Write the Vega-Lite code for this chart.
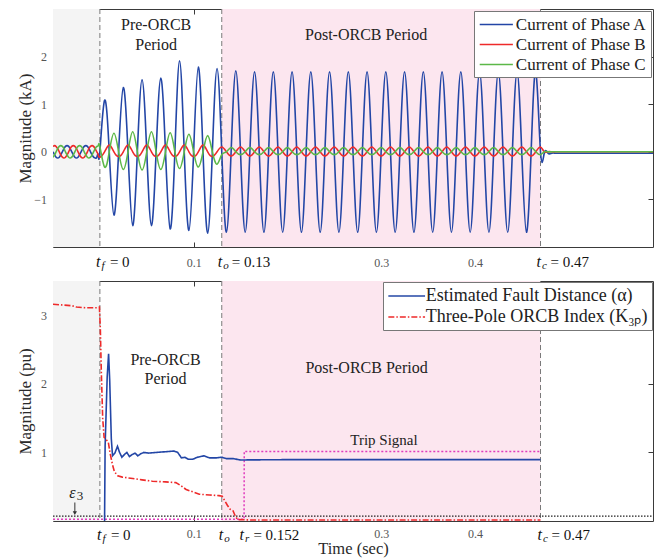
{
"$schema":"https://vega.github.io/schema/vega-lite/v6.json",
"padding":{"left":15,"top":8,"right":0,"bottom":0},
"background":"white",
"config":{
 "view":{"stroke":"#3a3a3a","strokeWidth":1},
 "font":"Liberation Serif",
 "axis":{"grid":false,"domain":false,"ticks":true,"tickColor":"#3a3a3a","tickSize":-5,"tickWidth":1,"labelFont":"Liberation Serif","labelFontSize":12,"labelColor":"#555","labelOverlap":false,"labelFlush":false,"titleFont":"Liberation Serif","titleFontSize":17,"titleFontWeight":"normal","titleColor":"#2a2a2a"},
 "legend":{"orient":"top-right","symbolType":"M-2,0H2","symbolStrokeWidth":1.6,"labelFont":"Liberation Serif","labelFontSize":17,"labelColor":"#222","labelLimit":400,"strokeColor":"#777","fillColor":"#ffffff","padding":4,"rowPadding":2},
 "text":{"font":"Liberation Serif"}
},
"datasets":{
"cur":[
{"t":-0.05,"A":0,"B":0.113,"C":-0.113},
{"t":-0.0483,"A":-0.065,"B":0.13,"C":-0.065},
{"t":-0.0467,"A":-0.113,"B":0.113,"C":0},
{"t":-0.045,"A":-0.13,"B":0.065,"C":0.065},
{"t":-0.0433,"A":-0.113,"B":0,"C":0.113},
{"t":-0.0417,"A":-0.065,"B":-0.065,"C":0.13},
{"t":-0.04,"A":0,"B":-0.113,"C":0.113},
{"t":-0.0383,"A":0.065,"B":-0.13,"C":0.065},
{"t":-0.0367,"A":0.113,"B":-0.113,"C":0},
{"t":-0.035,"A":0.13,"B":-0.065,"C":-0.065},
{"t":-0.0333,"A":0.113,"B":0,"C":-0.113},
{"t":-0.0317,"A":0.065,"B":0.065,"C":-0.13},
{"t":-0.03,"A":0,"B":0.113,"C":-0.113},
{"t":-0.0283,"A":-0.065,"B":0.13,"C":-0.065},
{"t":-0.0267,"A":-0.113,"B":0.113,"C":0},
{"t":-0.025,"A":-0.13,"B":0.065,"C":0.065},
{"t":-0.0233,"A":-0.113,"B":0,"C":0.113},
{"t":-0.0217,"A":-0.065,"B":-0.065,"C":0.13},
{"t":-0.02,"A":0,"B":-0.113,"C":0.113},
{"t":-0.0183,"A":0.065,"B":-0.13,"C":0.065},
{"t":-0.0167,"A":0.113,"B":-0.113,"C":0},
{"t":-0.015,"A":0.13,"B":-0.065,"C":-0.065},
{"t":-0.0133,"A":0.113,"B":0,"C":-0.113},
{"t":-0.0117,"A":0.065,"B":0.065,"C":-0.13},
{"t":-0.01,"A":0,"B":0.113,"C":-0.113},
{"t":-0.0083,"A":-0.065,"B":0.13,"C":-0.065},
{"t":-0.0067,"A":-0.113,"B":0.113,"C":0},
{"t":-0.005,"A":-0.13,"B":0.065,"C":0.065},
{"t":-0.0033,"A":-0.113,"B":0,"C":0.113},
{"t":-0.0017,"A":-0.065,"B":-0.065,"C":0.13},
{"t":0,"A":0,"B":-0.113,"C":0.113},
{"t":0.005,"A":1.08,"B":0,"C":-0.32},
{"t":0.01,"A":0,"B":0.14,"C":0},
{"t":0.015,"A":-1.33,"B":0,"C":0.39},
{"t":0.02,"A":0,"B":-0.1,"C":0},
{"t":0.025,"A":1.35,"B":0,"C":-0.37},
{"t":0.03,"A":0,"B":0.14,"C":0},
{"t":0.035,"A":-1.55,"B":0,"C":0.42},
{"t":0.04,"A":0,"B":-0.1,"C":0},
{"t":0.045,"A":1.51,"B":0,"C":-0.38},
{"t":0.05,"A":0,"B":0.14,"C":0},
{"t":0.055,"A":-1.55,"B":0,"C":0.42},
{"t":0.06,"A":0,"B":-0.1,"C":0},
{"t":0.065,"A":1.55,"B":0,"C":-0.37},
{"t":0.07,"A":0,"B":0.14,"C":0},
{"t":0.075,"A":-1.62,"B":0,"C":0.4},
{"t":0.08,"A":0,"B":-0.1,"C":0},
{"t":0.085,"A":1.91,"B":0,"C":-0.35},
{"t":0.09,"A":0,"B":0.14,"C":0},
{"t":0.095,"A":-1.65,"B":0,"C":0.37},
{"t":0.1,"A":0,"B":-0.1,"C":0},
{"t":0.105,"A":1.78,"B":0,"C":-0.32},
{"t":0.11,"A":0,"B":0.14,"C":0},
{"t":0.115,"A":-1.71,"B":0,"C":0.34},
{"t":0.12,"A":0,"B":-0.1,"C":0},
{"t":0.125,"A":1.75,"B":0,"C":-0.26},
{"t":0.13,"A":0,"B":0.1,"C":-0.06},
{"t":0.135,"A":-1.69,"B":0,"C":0},
{"t":0.14,"A":0,"B":-0.09,"C":0.09},
{"t":0.145,"A":1.7,"B":0,"C":0},
{"t":0.15,"A":0,"B":0.1,"C":-0.06},
{"t":0.155,"A":-1.69,"B":0,"C":0},
{"t":0.16,"A":0,"B":-0.09,"C":0.09},
{"t":0.165,"A":1.68,"B":0,"C":0},
{"t":0.17,"A":0,"B":0.1,"C":-0.06},
{"t":0.175,"A":-1.69,"B":0,"C":0},
{"t":0.18,"A":0,"B":-0.09,"C":0.09},
{"t":0.185,"A":1.68,"B":0,"C":0},
{"t":0.19,"A":0,"B":0.1,"C":-0.06},
{"t":0.195,"A":-1.69,"B":0,"C":0},
{"t":0.2,"A":0,"B":-0.09,"C":0.09},
{"t":0.205,"A":1.68,"B":0,"C":0},
{"t":0.21,"A":0,"B":0.1,"C":-0.06},
{"t":0.215,"A":-1.69,"B":0,"C":0},
{"t":0.22,"A":0,"B":-0.09,"C":0.09},
{"t":0.225,"A":1.68,"B":0,"C":0},
{"t":0.23,"A":0,"B":0.1,"C":-0.06},
{"t":0.235,"A":-1.69,"B":0,"C":0},
{"t":0.24,"A":0,"B":-0.09,"C":0.09},
{"t":0.245,"A":1.68,"B":0,"C":0},
{"t":0.25,"A":0,"B":0.1,"C":-0.06},
{"t":0.255,"A":-1.69,"B":0,"C":0},
{"t":0.26,"A":0,"B":-0.09,"C":0.09},
{"t":0.265,"A":1.68,"B":0,"C":0},
{"t":0.27,"A":0,"B":0.1,"C":-0.06},
{"t":0.275,"A":-1.69,"B":0,"C":0},
{"t":0.28,"A":0,"B":-0.09,"C":0.09},
{"t":0.285,"A":1.68,"B":0,"C":0},
{"t":0.29,"A":0,"B":0.1,"C":-0.06},
{"t":0.295,"A":-1.69,"B":0,"C":0},
{"t":0.3,"A":0,"B":-0.09,"C":0.09},
{"t":0.305,"A":1.68,"B":0,"C":0},
{"t":0.31,"A":0,"B":0.1,"C":-0.06},
{"t":0.315,"A":-1.69,"B":0,"C":0},
{"t":0.32,"A":0,"B":-0.09,"C":0.09},
{"t":0.325,"A":1.68,"B":0,"C":0},
{"t":0.33,"A":0,"B":0.1,"C":-0.06},
{"t":0.335,"A":-1.69,"B":0,"C":0},
{"t":0.34,"A":0,"B":-0.09,"C":0.09},
{"t":0.345,"A":1.68,"B":0,"C":0},
{"t":0.35,"A":0,"B":0.1,"C":-0.06},
{"t":0.355,"A":-1.69,"B":0,"C":0},
{"t":0.36,"A":0,"B":-0.09,"C":0.09},
{"t":0.365,"A":1.68,"B":0,"C":0},
{"t":0.37,"A":0,"B":0.1,"C":-0.06},
{"t":0.375,"A":-1.69,"B":0,"C":0},
{"t":0.38,"A":0,"B":-0.09,"C":0.09},
{"t":0.385,"A":1.68,"B":0,"C":0},
{"t":0.39,"A":0,"B":0.1,"C":-0.06},
{"t":0.395,"A":-1.69,"B":0,"C":0},
{"t":0.4,"A":0,"B":-0.09,"C":0.09},
{"t":0.405,"A":1.68,"B":0,"C":0},
{"t":0.41,"A":0,"B":0.1,"C":-0.06},
{"t":0.415,"A":-1.69,"B":0,"C":0},
{"t":0.42,"A":0,"B":-0.09,"C":0.09},
{"t":0.425,"A":1.68,"B":0,"C":0},
{"t":0.43,"A":0,"B":0.1,"C":-0.06},
{"t":0.435,"A":-1.69,"B":0,"C":0},
{"t":0.44,"A":0,"B":-0.09,"C":0.09},
{"t":0.445,"A":1.68,"B":0,"C":0},
{"t":0.45,"A":0,"B":0.1,"C":-0.06},
{"t":0.455,"A":-1.69,"B":0,"C":0},
{"t":0.46,"A":0,"B":-0.09,"C":0.09},
{"t":0.465,"A":1.68,"B":0,"C":0},
{"t":0.47,"A":0,"B":0.1,"C":-0.06},
{"t":0.474,"A":-0.03,"B":0,"C":0},
{"t":0.478,"A":-0.03,"B":0,"C":0},
{"t":0.482,"A":-0.03,"B":0,"C":0},
{"t":0.486,"A":-0.03,"B":0,"C":0},
{"t":0.49,"A":-0.03,"B":0,"C":0},
{"t":0.495,"A":-0.03,"B":0,"C":0},
{"t":0.5,"A":-0.03,"B":0,"C":0},
{"t":0.51,"A":-0.03,"B":0,"C":0},
{"t":0.52,"A":-0.03,"B":0,"C":0},
{"t":0.535,"A":-0.03,"B":0,"C":0},
{"t":0.55,"A":-0.03,"B":0,"C":0},
{"t":0.57,"A":-0.03,"B":0,"C":0},
{"t":0.59,"A":-0.03,"B":0,"C":0}
],
"est":[
{"t":0.005,"s":"a","v":0},{"t":0.0056,"s":"a","v":1.1},{"t":0.0078,"s":"a","v":2.1},{"t":0.0093,"s":"a","v":2.44},{"t":0.0105,"s":"a","v":2.05},{"t":0.0122,"s":"a","v":1.2},{"t":0.0135,"s":"a","v":0.95},{"t":0.016,"s":"a","v":0.99},{"t":0.0188,"s":"a","v":1.09},{"t":0.021,"s":"a","v":1.0},{"t":0.0235,"s":"a","v":0.93},{"t":0.0262,"s":"a","v":0.97},{"t":0.0288,"s":"a","v":1.0},{"t":0.0315,"s":"a","v":0.94},{"t":0.0345,"s":"a","v":0.97},{"t":0.0375,"s":"a","v":0.99},{"t":0.0405,"s":"a","v":0.95},{"t":0.0435,"s":"a","v":0.98},{"t":0.047,"s":"a","v":1.0},{"t":0.052,"s":"a","v":0.99},{"t":0.06,"s":"a","v":1.0},{"t":0.07,"s":"a","v":1.01},{"t":0.079,"s":"a","v":1.02},{"t":0.083,"s":"a","v":1.0},{"t":0.087,"s":"a","v":0.92},{"t":0.0905,"s":"a","v":0.93},{"t":0.0945,"s":"a","v":0.9},{"t":0.099,"s":"a","v":0.9},{"t":0.104,"s":"a","v":0.93},{"t":0.111,"s":"a","v":0.95},{"t":0.117,"s":"a","v":0.92},{"t":0.124,"s":"a","v":0.92},{"t":0.13,"s":"a","v":0.93},{"t":0.135,"s":"a","v":0.91},{"t":0.142,"s":"a","v":0.91},{"t":0.15,"s":"a","v":0.89},{"t":0.2,"s":"a","v":0.895},{"t":0.3,"s":"a","v":0.895},{"t":0.4,"s":"a","v":0.895},{"t":0.47,"s":"a","v":0.895},
{"t":-0.05,"s":"k","v":3.16},{"t":-0.04,"s":"k","v":3.15},{"t":-0.03,"s":"k","v":3.14},{"t":-0.025,"s":"k","v":3.12},{"t":-0.015,"s":"k","v":3.11},{"t":-0.003,"s":"k","v":3.11},{"t":-0.0005,"s":"k","v":3.12},{"t":0.0005,"s":"k","v":2.8},{"t":0.0015,"s":"k","v":2.2},{"t":0.003,"s":"k","v":1.5},{"t":0.0045,"s":"k","v":1.22},{"t":0.0065,"s":"k","v":1.19},{"t":0.009,"s":"k","v":1.15},{"t":0.011,"s":"k","v":0.98},{"t":0.0135,"s":"k","v":0.82},{"t":0.0155,"s":"k","v":0.72},{"t":0.019,"s":"k","v":0.66},{"t":0.024,"s":"k","v":0.64},{"t":0.035,"s":"k","v":0.62},{"t":0.045,"s":"k","v":0.6},{"t":0.056,"s":"k","v":0.58},{"t":0.07,"s":"k","v":0.57},{"t":0.081,"s":"k","v":0.56},{"t":0.086,"s":"k","v":0.52},{"t":0.092,"s":"k","v":0.46},{"t":0.1,"s":"k","v":0.42},{"t":0.106,"s":"k","v":0.39},{"t":0.117,"s":"k","v":0.38},{"t":0.127,"s":"k","v":0.37},{"t":0.1305,"s":"k","v":0.36},{"t":0.133,"s":"k","v":0.3},{"t":0.136,"s":"k","v":0.23},{"t":0.139,"s":"k","v":0.17},{"t":0.142,"s":"k","v":0.15},{"t":0.1445,"s":"k","v":0.07},{"t":0.147,"s":"k","v":0.02},{"t":0.16,"s":"k","v":0.015},{"t":0.47,"s":"k","v":0.015}
],
"spTop":[{"t":0,"sub":"f","rest":"= 0"},{"t":0.13,"sub":"o","rest":"= 0.13"},{"t":0.47,"sub":"c","rest":"= 0.47"}],
"spBot":[{"t":0,"sub":"f","rest":"= 0"},{"t":0.13,"sub":"o","rest":""},{"t":0.152,"sub":"r","rest":"= 0.152"},{"t":0.47,"sub":"c","rest":"= 0.47"}]
},
"vconcat":[
{
 "width":600,"height":238,
 "encoding":{"x":{"field":"t","type":"quantitative","scale":{"domain":[-0.05,0.59],"nice":false},"axis":null}},
 "layer":[
  {"data":{"values":[{"t":-0.05,"t2":0}]},"mark":{"type":"rect","fill":"#f4f4f4"},"encoding":{"x2":{"field":"t2"}}},
  {"data":{"values":[{"t":0.13,"t2":0.47}]},"mark":{"type":"rect","fill":"#fce6ef"},"encoding":{"x2":{"field":"t2"}}},
  {"data":{"values":[{"t":0},{"t":0.13},{"t":0.47}]},"mark":{"type":"rule","stroke":"#7a7a7a","strokeDash":[5,3],"strokeWidth":1},"encoding":{}},
  {"data":{"name":"cur"},"transform":[{"fold":["A","B","C"],"as":["phase","kA"]}],
   "mark":{"type":"line","interpolate":"natural","strokeWidth":1.6,"clip":true},
   "encoding":{
    "x":{"field":"t","type":"quantitative","scale":{"domain":[-0.05,0.59],"nice":false},"axis":{"orient":"bottom","values":[0.1,0.2,0.3,0.4],"format":".1f","labelExpr":"datum.value == 0.2 ? '' : datum.label","title":null,"labelPadding":20,"labelBaseline":"middle"}},
    "y":{"field":"kA","type":"quantitative","scale":{"domain":[-2,3],"nice":false},"axis":{"values":[-1,0,1,2],"title":"Magnitude (kA)","titleX":-28,"titleBaseline":"middle","labelPadding":11.5}},
    "stroke":{"field":"phase","type":"nominal","scale":{"domain":["A","B","C"],"range":["#2346a6","#ee2a2a","#5cb848"]},"legend":{"title":null,"offset":2,"symbolSize":275,"symbolOffset":8.8,"labelOffset":10,"labelFont":"Liberation Serif","labelFontSize":17,"labelExpr":"'Current of Phase ' + datum.label"}}
   }},
  {"data":{"values":[{"t":0.06,"v":2.66,"txt":"Pre-ORCB"},{"t":0.06,"v":2.24,"txt":"Period"},{"t":0.284,"v":2.45,"txt":"Post-ORCB Period"}]},
   "mark":{"type":"text","font":"Liberation Serif","fontSize":16,"color":"#222"},
   "encoding":{
    "x":{"field":"t","type":"quantitative","scale":{"domain":[-0.05,0.59],"nice":false},"axis":{"orient":"top","values":[0.1,0.2,0.3,0.4],"labels":false,"title":null}},
    "y":{"field":"v","type":"quantitative","scale":{"domain":[-2,3],"nice":false},"axis":{"orient":"right","values":[-1,0,1,2],"labels":false,"title":null}},
    "text":{"field":"txt"}}},
  {"data":{"name":"spTop"},"mark":{"type":"text","font":"Liberation Serif","align":"left","baseline":"middle","dx":-4,"dy":15,"fontSize":16,"fontStyle":"italic","color":"#111"},
   "encoding":{"y":{"datum":-2,"type":"quantitative","scale":{"domain":[-2,3],"nice":false},"axis":null},"text":{"value":"t"}}},
  {"data":{"name":"spTop"},"mark":{"type":"text","font":"Liberation Serif","align":"left","baseline":"middle","dx":1.5,"dy":19,"fontSize":11,"fontStyle":"italic","color":"#111"},
   "encoding":{"y":{"datum":-2,"type":"quantitative","scale":{"domain":[-2,3],"nice":false},"axis":null},"text":{"field":"sub"}}},
  {"data":{"name":"spTop"},"mark":{"type":"text","font":"Liberation Serif","align":"left","baseline":"middle","dx":10,"dy":15,"fontSize":15,"color":"#111"},
   "encoding":{"y":{"datum":-2,"type":"quantitative","scale":{"domain":[-2,3],"nice":false},"axis":null},"text":{"field":"rest"}}}
 ],
 "resolve":{"axis":{"x":"independent","y":"independent"}}
},
{
 "width":600,"height":240,
 "encoding":{"x":{"field":"t","type":"quantitative","scale":{"domain":[-0.05,0.59],"nice":false},"axis":null}},
 "layer":[
  {"data":{"values":[{"t":-0.05,"t2":0}]},"mark":{"type":"rect","fill":"#f4f4f4"},"encoding":{"x2":{"field":"t2"}}},
  {"data":{"values":[{"t":0.13,"t2":0.47}]},"mark":{"type":"rect","fill":"#fce6ef"},"encoding":{"x2":{"field":"t2"}}},
  {"data":{"values":[{"t":0},{"t":0.13},{"t":0.47}]},"mark":{"type":"rule","stroke":"#7a7a7a","strokeDash":[5,3],"strokeWidth":1},"encoding":{}},
  {"data":{"values":[{"t":-0.05,"t2":0.59,"eps":0.07}]},"mark":{"type":"rule","stroke":"#222","strokeDash":[1.5,1.5],"strokeWidth":1.2},
   "encoding":{"x2":{"field":"t2"},"y":{"field":"eps","type":"quantitative","scale":{"domain":[0,3.5],"nice":false},"axis":null}}},
  {"data":{"values":[{"t":-0.05,"v":0.025},{"t":0.1538,"v":0.025},{"t":0.154,"v":1.015},{"t":0.47,"v":1.015}]},
   "mark":{"type":"line","stroke":"#e03cbd","strokeDash":[2,2],"strokeWidth":1.5},
   "encoding":{"y":{"field":"v","type":"quantitative","scale":{"domain":[0,3.5],"nice":false},"axis":null}}},
  {"data":{"name":"est"},"mark":{"type":"line","strokeWidth":1.6,"clip":true},
   "encoding":{
    "x":{"field":"t","type":"quantitative","scale":{"domain":[-0.05,0.59],"nice":false},"axis":{"orient":"bottom","values":[0.1,0.2,0.3,0.4],"format":".1f","labelExpr":"datum.value == 0.2 ? '' : datum.label","title":"Time (sec)","titleY":27.5,"titleFontSize":16.5,"titleBaseline":"middle","labelPadding":17,"labelBaseline":"middle"}},
    "y":{"field":"v","type":"quantitative","scale":{"domain":[0,3.5],"nice":false},"axis":{"values":[1,2,3],"title":"Magnitude (pu)","titleX":-28,"titleBaseline":"middle","labelPadding":11.5}},
    "stroke":{"field":"s","type":"nominal","scale":{"domain":["a","k"],"range":["#2346a6","#ee2a2a"]},"legend":{"title":null,"offset":1,"symbolSize":337,"symbolOffset":9.7,"labelOffset":9,"labelFont":"Liberation Serif","labelFontSize":18,"labelExpr":"datum.label == 'a' ? 'Estimated Fault Distance (α)' : 'Three-Pole ORCB Index (K₃ₚ)'"}},
    "strokeDash":{"field":"s","type":"nominal","scale":{"domain":["a","k"],"range":[[1,0],[6,2,1.5,2]]},"legend":{"title":null,"offset":1,"symbolSize":337,"symbolOffset":9.7,"labelOffset":9,"labelFont":"Liberation Serif","labelFontSize":18,"labelExpr":"datum.label == 'a' ? 'Estimated Fault Distance (α)' : 'Three-Pole ORCB Index (K₃ₚ)'"}}
   }},
  {"data":{"values":[{"t":0.07,"v":2.35,"txt":"Pre-ORCB"},{"t":0.07,"v":2.07,"txt":"Period"},{"t":0.2845,"v":2.23,"txt":"Post-ORCB Period"}]},
   "mark":{"type":"text","font":"Liberation Serif","fontSize":16,"color":"#222"},
   "encoding":{
    "x":{"field":"t","type":"quantitative","scale":{"domain":[-0.05,0.59],"nice":false},"axis":{"orient":"top","values":[0.1,0.2,0.3,0.4],"labels":false,"title":null}},
    "y":{"field":"v","type":"quantitative","scale":{"domain":[0,3.5],"nice":false},"axis":{"orient":"right","values":[1,2,3],"labels":false,"title":null}},
    "text":{"field":"txt"}}},
  {"data":{"values":[{"t":0.303,"v":1.18,"txt":"Trip Signal"}]},"mark":{"type":"text","font":"Liberation Serif","fontSize":15,"color":"#222"},
   "encoding":{"y":{"field":"v","type":"quantitative","scale":{"domain":[0,3.5],"nice":false},"axis":null},"text":{"field":"txt"}}},
  {"data":{"values":[{"t":-0.0267,"v":0.27,"v2":0.12}]},"mark":{"type":"rule","stroke":"#333","strokeWidth":1},
   "encoding":{"y":{"field":"v","type":"quantitative","scale":{"domain":[0,3.5],"nice":false},"axis":null},"y2":{"field":"v2"}}},
  {"data":{"values":[{"t":-0.0267,"v":0.115}]},"mark":{"type":"point","shape":"triangle-down","filled":true,"size":18,"color":"#333","opacity":1},
   "encoding":{"y":{"field":"v","type":"quantitative","scale":{"domain":[0,3.5],"nice":false},"axis":null}}},
  {"data":{"values":[{"t":-0.0255,"v":0.41}]},"mark":{"type":"text","font":"Liberation Serif","fontSize":16,"fontStyle":"italic","color":"#222","dx":-3.5},
   "encoding":{"y":{"field":"v","type":"quantitative","scale":{"domain":[0,3.5],"nice":false},"axis":null},"text":{"value":"ε"}}},
  {"data":{"values":[{"t":-0.0255,"v":0.41}]},"mark":{"type":"text","font":"Liberation Serif","fontSize":13,"color":"#222","dx":4,"dy":3},
   "encoding":{"y":{"field":"v","type":"quantitative","scale":{"domain":[0,3.5],"nice":false},"axis":null},"text":{"value":"3"}}},
  {"data":{"name":"spBot"},"mark":{"type":"text","font":"Liberation Serif","align":"left","baseline":"middle","dx":-3,"dy":14,"fontSize":16,"fontStyle":"italic","color":"#111"},
   "encoding":{"y":{"datum":0,"type":"quantitative","scale":{"domain":[0,3.5],"nice":false},"axis":null},"text":{"value":"t"}}},
  {"data":{"name":"spBot"},"mark":{"type":"text","font":"Liberation Serif","align":"left","baseline":"middle","dx":2.5,"dy":18,"fontSize":11,"fontStyle":"italic","color":"#111"},
   "encoding":{"y":{"datum":0,"type":"quantitative","scale":{"domain":[0,3.5],"nice":false},"axis":null},"text":{"field":"sub"}}},
  {"data":{"name":"spBot"},"mark":{"type":"text","font":"Liberation Serif","align":"left","baseline":"middle","dx":11,"dy":14,"fontSize":15,"color":"#111"},
   "encoding":{"y":{"datum":0,"type":"quantitative","scale":{"domain":[0,3.5],"nice":false},"axis":null},"text":{"field":"rest"}}}
 ],
 "resolve":{"axis":{"x":"independent","y":"independent"}}
}
],
"spacing":34,
"bounds":"flush",
"resolve":{"scale":{"stroke":"independent","strokeDash":"independent"},"legend":{"stroke":"independent","strokeDash":"independent"}}
}
